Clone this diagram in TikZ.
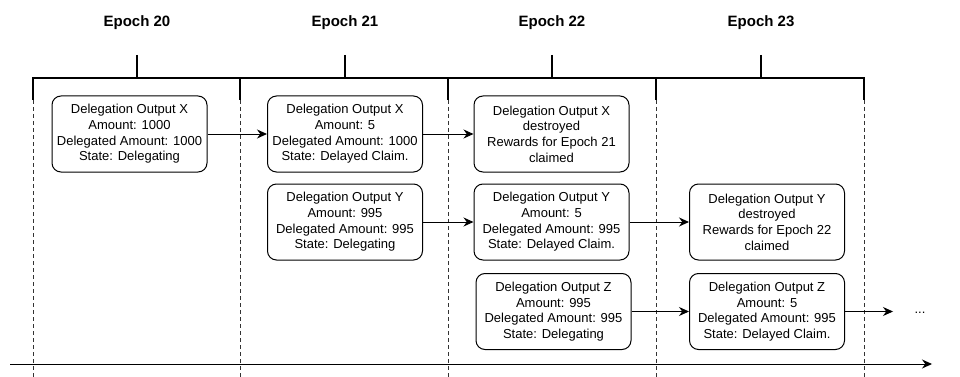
\documentclass[tikz,border=0pt]{standalone}
\usepackage{fontspec}
\setmainfont{Liberation Sans}
\usetikzlibrary{positioning,arrows.meta}

\begin{document}
\begin{tikzpicture}[
    x=1pt, y=-1pt,
    >={Stealth[length=10pt,width=9pt]},
    output/.style={rectangle, draw, line width=1pt, rounded corners=9pt, align=center,
                   minimum width=155pt, minimum height=76pt, inner sep=2pt,
                   font=\fontsize{13}{15.6}\selectfont},
    epoch/.style={font=\fontsize{15}{18}\selectfont\bfseries},
    flow/.style={->, line width=1pt},
    bar/.style={line width=2.6pt},
    sep/.style={dash pattern=on 4pt off 3pt, line width=0.8pt, black!80}
]
\useasboundingbox (0,0) rectangle (960,377);

% epoch headers and ticks
\foreach \e/\cx in {20/137, 21/345, 22/552, 23/761} {
    \node[epoch] (e\e) at (\cx,23) {Epoch \e};
    \draw[bar] (\cx,55) -- (\cx,78);
}
\draw[bar] (33,100) -- (33,78) -- (864,78) -- (864,100);
\foreach \bx in {240, 448, 656}
    \draw[bar] (\bx,78) -- (\bx,100);
\foreach \bx in {33, 240, 448, 656, 864}
    \draw[sep] (\bx,100) -- (\bx,377);

% time axis
\coordinate (t0) at (10,364);
\coordinate (t1) at (932,364);
\draw[flow] (t0) -- (t1);

% outputs
\node[output] (x20) at (129.5,134) {Delegation Output X\\Amount: 1000\\Delegated Amount: 1000\\State: Delegating};
\node[output] (x21) at (345,134) {Delegation Output X\\Amount: 5\\Delegated Amount: 1000\\State: Delayed Claim.};
\node[output] (x22) at (551.5,134) {Delegation Output X\\destroyed\\Rewards for Epoch 21\\claimed};
\node[output] (y21) at (345,222) {Delegation Output Y\\Amount: 995\\Delegated Amount: 995\\State: Delegating};
\node[output] (y22) at (551.5,222) {Delegation Output Y\\Amount: 5\\Delegated Amount: 995\\State: Delayed Claim.};
\node[output] (y23) at (767,222) {Delegation Output Y\\destroyed\\Rewards for Epoch 22\\claimed};
\node[output] (z22) at (553.5,311.5) {Delegation Output Z\\Amount: 995\\Delegated Amount: 995\\State: Delegating};
\node[output] (z23) at (767,311.5) {Delegation Output Z\\Amount: 5\\Delegated Amount: 995\\State: Delayed Claim.};
\coordinate (next) at (893,311.5);
\node[font=\fontsize{13}{15.6}\selectfont] (more) at (920,313) {...};

\draw[flow] (x20) -- (x21);
\draw[flow] (x21) -- (x22);
\draw[flow] (y21) -- (y22);
\draw[flow] (y22) -- (y23);
\draw[flow] (z22) -- (z23);
\draw[flow] (z23) -- (next);
\end{tikzpicture}
\end{document}
